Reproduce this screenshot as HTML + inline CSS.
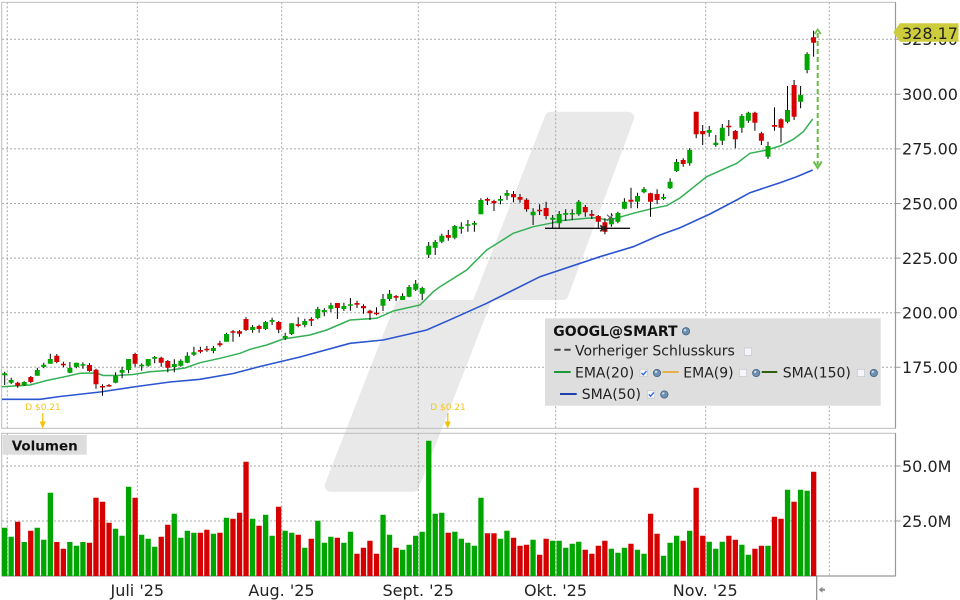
<!DOCTYPE html>
<html><head><meta charset="utf-8"><style>
html,body{margin:0;padding:0;background:#fff;width:960px;height:600px;overflow:hidden}
svg{display:block}
text{font-family:"DejaVu Sans","Liberation Sans",sans-serif}
</style></head><body>
<svg width="960" height="600" viewBox="0 0 960 600" xmlns="http://www.w3.org/2000/svg">
<defs>
<linearGradient id="rg" x1="0" x2="1" y1="0" y2="0"><stop offset="0" stop-color="#111"/><stop offset="1" stop-color="#999"/></linearGradient>
</defs>
<rect width="960" height="600" fill="#fff"/>
<!-- watermark -->
<polygon points="550.8,117.7 628.1,117.7 562.5,294 487.9,294 413.2,485.7 330.7,485.7 400.8,306 477.3,306" fill="#e9e9e9" stroke="#e9e9e9" stroke-width="12" stroke-linejoin="round"/>
<!-- grid -->
<g stroke="#a8a8a8" stroke-width="1" stroke-dasharray="2,2" fill="none">
<path d="M2 39.3H895.5M2 94.3H895.5M2 148.9H895.5M2 203.5H895.5M2 258.1H895.5M2 312.7H895.5M2 367.3H895.5"/>
<path d="M2 466H895.5M2 521H895.5"/>
<path d="M7.3 2.3V428.3M137.3 2.3V428.3M281.7 2.3V428.3M418.3 2.3V428.3M555.7 2.3V428.3M705.7 2.3V428.3M829.3 2.3V428.3"/>
<path d="M7.3 433.3V576M137.3 433.3V576M281.7 433.3V576M418.3 433.3V576M555.7 433.3V576M705.7 433.3V576M829.3 433.3V576"/>
</g>
<!-- frames -->
<rect x="1.7" y="2.3" width="893.8" height="426" fill="none" stroke="#bcbcbc" stroke-width="1"/>
<rect x="1.7" y="433.3" width="893.8" height="142.7" fill="none" stroke="#bcbcbc" stroke-width="1"/>
<path d="M895.5 2.3V428.3M895.5 433.3V576M1.7 576H895.5" stroke="#999" stroke-width="1.2" fill="none"/>
<path d="M895.5 39.3h5M895.5 94.3h5M895.5 148.9h5M895.5 203.5h5M895.5 258.1h5M895.5 312.7h5M895.5 367.3h5M895.5 466h5M895.5 521h5" stroke="#999" stroke-width="1"/>

<!-- volume bars -->
<path fill="#00a600" d="M2 527.7h5.3V576h-5.3zM8.5 536.7h5.3V576h-5.3zM21.6 542h5.3V576h-5.3zM34.6 527.7h5.3V576h-5.3zM41.1 539.7h5.3V576h-5.3zM47.7 492.7h5.3V576h-5.3zM67.2 542h5.3V576h-5.3zM73.8 545.7h5.3V576h-5.3zM80.3 542h5.3V576h-5.3zM112.9 528.7h5.3V576h-5.3zM119.4 535.7h5.3V576h-5.3zM126 486.7h5.3V576h-5.3zM139 534.7h5.3V576h-5.3zM145.5 538.7h5.3V576h-5.3zM152.1 546.7h5.3V576h-5.3zM171.6 513.7h5.3V576h-5.3zM178.2 537.7h5.3V576h-5.3zM184.7 530.7h5.3V576h-5.3zM191.2 532.7h5.3V576h-5.3zM210.8 533.7h5.3V576h-5.3zM223.8 517.7h5.3V576h-5.3zM249.9 518.7h5.3V576h-5.3zM263 514.7h5.3V576h-5.3zM269.5 535.7h5.3V576h-5.3zM282.5 530.7h5.3V576h-5.3zM289.1 532.7h5.3V576h-5.3zM302.1 547.7h5.3V576h-5.3zM315.2 520.7h5.3V576h-5.3zM321.7 542.7h5.3V576h-5.3zM328.2 536.7h5.3V576h-5.3zM341.2 542.7h5.3V576h-5.3zM347.8 531.7h5.3V576h-5.3zM380.4 514.7h5.3V576h-5.3zM386.9 534.7h5.3V576h-5.3zM400 549.7h5.3V576h-5.3zM406.5 544.7h5.3V576h-5.3zM413 535.7h5.3V576h-5.3zM419.5 531.7h5.3V576h-5.3zM426.1 440.7h5.3V576h-5.3zM432.6 513.7h5.3V576h-5.3zM439.1 512.7h5.3V576h-5.3zM452.2 531.7h5.3V576h-5.3zM458.7 538.7h5.3V576h-5.3zM465.2 542.7h5.3V576h-5.3zM471.7 545.7h5.3V576h-5.3zM478.3 497.7h5.3V576h-5.3zM497.8 538.7h5.3V576h-5.3zM504.3 530.7h5.3V576h-5.3zM530.4 539.7h5.3V576h-5.3zM550 540.7h5.3V576h-5.3zM556.5 540.7h5.3V576h-5.3zM563.1 547.7h5.3V576h-5.3zM569.6 543.7h5.3V576h-5.3zM576.1 541.7h5.3V576h-5.3zM608.7 548.7h5.3V576h-5.3zM615.3 552.7h5.3V576h-5.3zM621.8 547.7h5.3V576h-5.3zM634.8 549.7h5.3V576h-5.3zM641.4 553.7h5.3V576h-5.3zM660.9 555.7h5.3V576h-5.3zM667.4 542.7h5.3V576h-5.3zM674 535.7h5.3V576h-5.3zM687 530.7h5.3V576h-5.3zM706.6 541.7h5.3V576h-5.3zM713.1 548.7h5.3V576h-5.3zM719.6 541.7h5.3V576h-5.3zM739.2 544.7h5.3V576h-5.3zM745.7 554.7h5.3V576h-5.3zM765.3 545.7h5.3V576h-5.3zM784.9 489.7h5.3V576h-5.3zM797.9 489.7h5.3V576h-5.3zM804.5 490.7h5.3V576h-5.3z"/>
<path fill="#d60000" d="M15 521.7h5.3V576h-5.3zM28.1 530.7h5.3V576h-5.3zM54.2 542h5.3V576h-5.3zM60.7 548.7h5.3V576h-5.3zM86.8 542.7h5.3V576h-5.3zM93.3 497.7h5.3V576h-5.3zM99.9 501.7h5.3V576h-5.3zM106.4 522.7h5.3V576h-5.3zM132.5 497.7h5.3V576h-5.3zM158.6 536.7h5.3V576h-5.3zM165.1 524.7h5.3V576h-5.3zM197.7 532.7h5.3V576h-5.3zM204.2 529.7h5.3V576h-5.3zM217.3 532.7h5.3V576h-5.3zM230.3 518.7h5.3V576h-5.3zM236.9 512.7h5.3V576h-5.3zM243.4 461.7h5.3V576h-5.3zM256.4 525.7h5.3V576h-5.3zM276 506.7h5.3V576h-5.3zM295.6 534.7h5.3V576h-5.3zM308.6 538.7h5.3V576h-5.3zM334.7 537.7h5.3V576h-5.3zM354.3 553.7h5.3V576h-5.3zM360.8 547.7h5.3V576h-5.3zM367.3 540.7h5.3V576h-5.3zM373.9 553.7h5.3V576h-5.3zM393.4 547.7h5.3V576h-5.3zM445.6 532.7h5.3V576h-5.3zM484.8 533.3h5.3V576h-5.3zM491.3 533.3h5.3V576h-5.3zM510.9 537.7h5.3V576h-5.3zM517.4 545.7h5.3V576h-5.3zM523.9 544.7h5.3V576h-5.3zM537 554.7h5.3V576h-5.3zM543.5 538.7h5.3V576h-5.3zM582.6 549.7h5.3V576h-5.3zM589.2 553.7h5.3V576h-5.3zM595.7 545.7h5.3V576h-5.3zM602.2 540.7h5.3V576h-5.3zM628.3 543.7h5.3V576h-5.3zM647.9 513.7h5.3V576h-5.3zM654.4 533.7h5.3V576h-5.3zM680.5 540.7h5.3V576h-5.3zM693.5 487.7h5.3V576h-5.3zM700.1 535.7h5.3V576h-5.3zM726.2 535.7h5.3V576h-5.3zM732.7 539.7h5.3V576h-5.3zM752.3 548.7h5.3V576h-5.3zM758.8 545.7h5.3V576h-5.3zM771.8 516.7h5.3V576h-5.3zM778.4 518.7h5.3V576h-5.3zM791.4 501.7h5.3V576h-5.3zM811 471.7h5.3V576h-5.3z"/>

<!-- MA lines -->
<polyline fill="none" stroke="#2c55d0" stroke-width="1.6" points="2,399.3 40,399.3 60,396.5 100,392 136.7,386.5 170,382 200,379.3 233.3,373.5 260,366.5 300,357 350,343.3 383.3,340 426.7,330 453.3,318.3 486.7,303.3 540,276.7 600,256.7 633.3,246.7 660,235 680,227.7 710,214 736.7,200 750,192.7 780,182.7 796.7,176.7 812.7,170"/>
<polyline fill="none" stroke="#33b054" stroke-width="1.5" points="2,386.7 30,385 46.7,380.5 66.7,376.3 80,373.3 96.7,373 103,375.5 116.7,375.5 133,374.5 150,371.7 166.7,370.5 185,368 200,362.7 220,358.3 240,353.3 250,349.3 266.7,345 283.3,339 310,335 326.7,330 350,320 376.7,318.3 393.3,311 420,305 433.3,291.7 440,286.7 466.7,270 473.3,263.3 486.7,250 513.3,233.3 533.3,226.7 553.3,222.7 560,220.7 586.7,218.3 596.7,217.7 606.7,220 613.3,219 633.3,213.3 653.3,208.3 666.7,205.7 680,198 706.7,176.7 736.7,163.3 750,153.3 766.7,150 780,146 793.3,139.3 803.3,131.7 812.7,119"/>

<!-- wicks -->
<path stroke="#000" stroke-width="1" fill="none" d="M4.7 371.7V385M11.2 377.7V384M17.7 381.7V387.7M24.2 381.3V386M30.8 376V383.3M37.3 367.7V375.7M43.8 362.7V368.3M50.3 353.7V363.7M56.8 354V363.3M63.4 361.7V367.3M69.9 362V373.3M76.4 362.7V368.3M82.9 362.3V368.7M89.5 363.3V371.7M96 368.7V388.7M102.5 384.3V395.7M109 384V386.7M115.6 372.3V383.3M122.1 366.7V378.3M128.6 359V373.3M135.1 352.7V366.7M141.7 363.3V370.7M148.2 359V366.7M154.7 356V363.3M161.2 356.7V366.7M167.8 360V372.3M174.3 359.3V372.3M180.8 359.3V366.7M187.3 352.3V363.3M193.9 346.7V356M200.4 346.7V353.3M206.9 346V351.7M213.4 346V353.3M219.9 340.7V346.7M226.5 332.7V341.7M233 330V341.7M239.5 330V336.7M246 317.3V331M252.6 325V332.7M259.1 324.7V332.7M265.6 321V330M272.1 317.7V325M278.7 321V333.3M285.2 332.7V340M291.7 323.3V335M298.2 317.3V327.3M304.8 318.7V327.3M311.3 317.3V326M317.8 306.7V319.3M324.3 308.3V316.3M330.9 302.7V312M337.4 303V319M343.9 302.7V311M350.4 298V310.7M357 300.7V308M363.5 304.3V313.7M370 309.7V320M376.5 307.3V315.3M383 294V311M389.6 290V301M396.1 295V301M402.6 293.3V300M409.1 285V297.3M415.7 280V291M422.2 286.7V300M428.7 242V258M435.2 240V255M441.8 233.7V243.3M448.3 230V240.7M454.8 225V239.3M461.3 222.3V233.7M467.9 220V231.7M474.4 221V231.7M480.9 198.3V214.3M487.4 197.7V205M494 199.7V211M500.5 195.7V204.3M507 190V200M513.5 191V202.3M520 194V202.7M526.6 198.3V211.7M533.1 208.3V225M539.6 204.3V215M546.1 201.7V219.3M552.7 215V228.3M559.2 211V228.3M565.7 209.3V221M572.2 209.3V220M578.8 200V215.7M585.3 205V216.7M591.8 210V219M598.3 215V227.7M604.9 218.3V234.3M611.4 213.3V226.7M617.9 211.7V223.3M624.4 198.3V209.3M631 187.7V208.3M637.5 192.7V208.3M644 187V193.3M650.5 192.7V216.7M657.1 189.3V204.3M663.6 193.7V200M670.1 178.3V189M676.6 159V172M683.2 158.3V166.7M689.7 148.3V165.7M696.2 111.7V138.3M702.7 125V145M709.2 126V136.7M715.8 135V146.7M722.3 124V145M728.8 120V136M735.3 130V148.3M741.9 114V132.7M748.4 111.7V122.7M754.9 111.7V130.7M761.4 131.7V145M768 141.7V159M774.5 107.3V130.7M781 118.3V142.7M787.5 86V123.3M794.1 80V120M800.6 86V108.3M807.1 52.3V73.3M813.6 30.7V56.7"/>
<!-- green bodies -->
<path fill="#00a600" d="M2.2 373.3h5V375.3h-5zM8.7 380h5V382.7h-5zM21.7 382h5V385.3h-5zM34.8 370h5V375.7h-5zM41.3 364.7h5V367h-5zM47.8 359h5V363.7h-5zM67.4 368h5V372.7h-5zM73.9 362.7h5V367h-5zM80.4 364.3h5V365.8h-5zM113.1 376h5V382.7h-5zM119.6 370h5V372.7h-5zM126.1 359h5V370h-5zM139.2 364.7h5V366.2h-5zM145.7 359h5V365.7h-5zM152.2 357h5V358.7h-5zM171.8 364h5V367h-5zM178.3 360.7h5V365.7h-5zM184.8 355.7h5V362.7h-5zM191.4 352.3h5V354.7h-5zM210.9 348h5V351h-5zM224 334h5V341.7h-5zM250.1 327h5V330h-5zM263.1 322h5V329h-5zM269.6 320h5V321.7h-5zM282.7 336h5V338h-5zM289.2 323.3h5V334h-5zM302.3 321h5V325h-5zM315.3 309h5V318h-5zM321.8 310h5V312h-5zM328.4 305.3h5V308.7h-5zM341.4 306h5V309h-5zM347.9 304.3h5V305.8h-5zM380.5 299h5V305.7h-5zM387.1 293.7h5V299h-5zM400.1 296h5V300h-5zM406.6 287h5V296.7h-5zM413.2 283.7h5V289.7h-5zM419.7 288h5V293.7h-5zM426.2 245.7h5V254.7h-5zM432.7 242h5V247.7h-5zM439.3 235.7h5V241.7h-5zM452.3 226h5V237.7h-5zM458.8 226.7h5V228.7h-5zM465.4 224.3h5V225.8h-5zM471.9 223h5V224.7h-5zM478.4 200h5V214.3h-5zM498 199h5V200.7h-5zM504.5 193h5V195.7h-5zM530.6 211.7h5V215.3h-5zM550.2 217.7h5V219.7h-5zM556.7 214h5V223.3h-5zM563.2 213h5V214.7h-5zM569.7 213h5V214.5h-5zM576.3 201.7h5V214.3h-5zM608.9 217.7h5V224.3h-5zM615.4 213h5V221.7h-5zM621.9 201.7h5V208.7h-5zM635 196h5V201.7h-5zM641.5 189h5V192.3h-5zM661.1 197h5V198.7h-5zM667.6 181.7h5V188.3h-5zM674.1 162h5V171h-5zM687.2 150h5V163.3h-5zM706.7 130h5V132.7h-5zM713.3 142.7h5V145h-5zM719.8 127.7h5V140.7h-5zM739.4 116h5V127.7h-5zM745.9 112.7h5V120.7h-5zM765.5 146h5V156.7h-5zM785 110h5V121.7h-5zM798.1 95h5V101.7h-5zM804.6 54h5V70h-5z"/>
<!-- red bodies -->
<path fill="#d60000" d="M15.2 382.7h5V385.7h-5zM28.3 377h5V382h-5zM54.3 355.7h5V362h-5zM60.9 363.7h5V365.3h-5zM87 365h5V371h-5zM93.5 369.7h5V384.3h-5zM100 386h5V387.5h-5zM106.5 385h5V386.5h-5zM132.6 354h5V363.7h-5zM158.7 357.7h5V362.7h-5zM165.3 361h5V367.7h-5zM197.9 350h5V351.7h-5zM204.4 348.7h5V350.3h-5zM217.4 343.3h5V345.3h-5zM230.5 331.3h5V332.8h-5zM237 331.3h5V333.7h-5zM243.5 319h5V330h-5zM256.6 326h5V329h-5zM276.2 322h5V329.7h-5zM295.7 324.3h5V326h-5zM308.8 319h5V320.7h-5zM334.9 303h5V308h-5zM354.5 303h5V304.7h-5zM361 306h5V308.3h-5zM367.5 310.7h5V313.3h-5zM374 312.7h5V314.3h-5zM393.6 296h5V297.7h-5zM445.8 235h5V237.7h-5zM484.9 199h5V200.7h-5zM491.5 201h5V203.3h-5zM511 194h5V197.3h-5zM517.6 197h5V199.7h-5zM524.1 199.7h5V209.3h-5zM537.1 209.7h5V211.3h-5zM543.6 208h5V216h-5zM582.8 207h5V212.3h-5zM589.3 214h5V215.7h-5zM595.8 216h5V221.7h-5zM602.4 222.3h5V231.7h-5zM628.5 199.7h5V201.7h-5zM648 193.3h5V201.7h-5zM654.6 194h5V200h-5zM680.7 160h5V164h-5zM693.7 111.7h5V134.3h-5zM700.2 131h5V134.3h-5zM726.3 125.7h5V127.3h-5zM732.8 131h5V139.3h-5zM752.4 112.7h5V122.7h-5zM758.9 133.3h5V140.7h-5zM772 125h5V126.7h-5zM778.5 119.3h5V127.7h-5zM791.6 85h5V116.7h-5zM811.1 37.3h5V42.7h-5z"/>

<!-- support / resistance lines -->
<line x1="545" y1="228.3" x2="630" y2="228.3" stroke="#111" stroke-width="1.4"/>
<line x1="692.3" y1="111.7" x2="769" y2="111.7" stroke="url(#rg)" stroke-width="1.6"/>
<!-- X markers -->
<path d="M600.3 225.3l6 6M606.3 225.3l-6 6" stroke="#222" stroke-width="1.6"/>
<path d="M607 214.7l6 6M613 214.7l-6 6" stroke="#666" stroke-width="1.2"/>

<!-- green dashed arrow -->
<line x1="817.7" y1="33" x2="817.7" y2="165" stroke="#66bb44" stroke-width="2" stroke-dasharray="5,3"/>
<polyline points="814.7,34 817.7,29.5 820.7,34" fill="none" stroke="#66bb44" stroke-width="1.6"/>
<polyline points="813.7,161.5 817.7,168 821.7,161.5" fill="none" stroke="#66bb44" stroke-width="2"/>

<!-- dividends -->
<g fill="#f5c000" stroke="none">
<text x="43" y="410" font-size="9" text-anchor="middle" fill="#f5c518">D $0.21</text>
<rect x="42.2" y="413" width="1.2" height="9"/>
<polygon points="39.7,421.5 45.7,421.5 42.7,428.6"/>
<text x="448" y="410" font-size="9" text-anchor="middle" fill="#f5c518">D $0.21</text>
<rect x="447.2" y="413" width="1.2" height="9"/>
<polygon points="444.7,421.5 450.7,421.5 447.7,428.6"/>
</g>

<!-- legend -->
<rect x="545" y="318.3" width="335.7" height="87.4" fill="#dedede"/>
<text x="553.3" y="336.2" font-size="14" font-weight="bold" fill="#111">GOOGL@SMART</text>
<line x1="554.3" y1="349.7" x2="570.7" y2="349.7" stroke="#444" stroke-width="2" stroke-dasharray="6.3,3.7"/>
<text x="575" y="355.5" font-size="14" fill="#222">Vorheriger Schlusskurs</text>
<line x1="554" y1="372" x2="570.7" y2="372" stroke="#1d9a3a" stroke-width="2"/>
<text x="575" y="377.5" font-size="14" fill="#222">EMA(20)</text>
<line x1="662.3" y1="372" x2="678.7" y2="372" stroke="#e6b050" stroke-width="2"/>
<text x="683.3" y="377.5" font-size="14" fill="#222">EMA(9)</text>
<line x1="761.7" y1="372" x2="777.3" y2="372" stroke="#2f5f10" stroke-width="2"/>
<text x="782.7" y="377.5" font-size="14" fill="#222">SMA(150)</text>
<line x1="560" y1="394" x2="576.7" y2="394" stroke="#1f3fb0" stroke-width="2"/>
<text x="581.7" y="399" font-size="14" fill="#222">SMA(50)</text>
<!-- checkboxes -->
<g fill="#f6f6fa" stroke="#c4c4cc" stroke-width="0.7">
<rect x="744.3" y="348" width="7.3" height="7.3"/>
<rect x="640" y="369.3" width="7.3" height="7.3"/>
<rect x="739.3" y="369.3" width="7.3" height="7.3"/>
<rect x="857.3" y="369.3" width="7.3" height="7.3"/>
<rect x="647.3" y="390.7" width="7.3" height="7.3"/>
</g>
<path d="M641.5 373l1.8 1.8 3.2-3.8M648.8 394.4l1.8 1.8 3.2-3.8" fill="none" stroke="#2266dd" stroke-width="1.3"/>
<!-- globes -->
<g fill="#6f8fb0" stroke="#3e5c7c" stroke-width="0.7">
<circle cx="686" cy="331.3" r="3.7"/>
<circle cx="657" cy="373" r="3.7"/>
<circle cx="756.2" cy="373" r="3.7"/>
<circle cx="873.8" cy="373" r="3.7"/>
<circle cx="664.3" cy="394.5" r="3.7"/>
</g>
<g fill="#c8daf0">
<circle cx="685" cy="330.2" r="1.2"/>
<circle cx="656" cy="371.9" r="1.2"/>
<circle cx="755.2" cy="371.9" r="1.2"/>
<circle cx="872.8" cy="371.9" r="1.2"/>
<circle cx="663.3" cy="393.4" r="1.2"/>
</g>

<!-- Volumen label -->
<rect x="2.7" y="435" width="84" height="19.7" fill="#dddddd"/>
<text x="11.7" y="450.7" font-size="13.5" font-weight="bold" fill="#111">Volumen</text>

<!-- right axis labels -->
<g font-size="16" fill="#222">
<text x="902" y="45.1">325.00</text>
<text x="902" y="100.1">300.00</text>
<text x="902" y="154.7">275.00</text>
<text x="902" y="209.3">250.00</text>
<text x="902" y="263.9">225.00</text>
<text x="902" y="318.5">200.00</text>
<text x="902" y="373.1">175.00</text>
<text x="902" y="471.8">50.0M</text>
<text x="902" y="526.8">25.0M</text>
</g>
<!-- price tag -->
<polygon points="893.3,32.3 900,23.3 958.5,23.3 958.5,41.7 900,41.7" fill="#cccc3c"/>
<text x="902" y="39" font-size="16" fill="#222">328.17</text>

<!-- x axis labels -->
<g font-size="16" fill="#222" text-anchor="middle">
<text x="137.3" y="596">Juli '25</text>
<text x="281.5" y="596">Aug. '25</text>
<text x="418.2" y="596">Sept. '25</text>
<text x="555.5" y="596">Okt. '25</text>
<text x="705.2" y="596">Nov. '25</text>
</g>
<!-- now marker -->
<line x1="816.7" y1="576" x2="816.7" y2="600" stroke="#888" stroke-width="1.2"/>
<polygon points="818.7,589.7 822.5,586.7 822.5,588.7 825,588.7 825,590.7 822.5,590.7 822.5,592.7" fill="#888"/>
</svg>
</body></html>
